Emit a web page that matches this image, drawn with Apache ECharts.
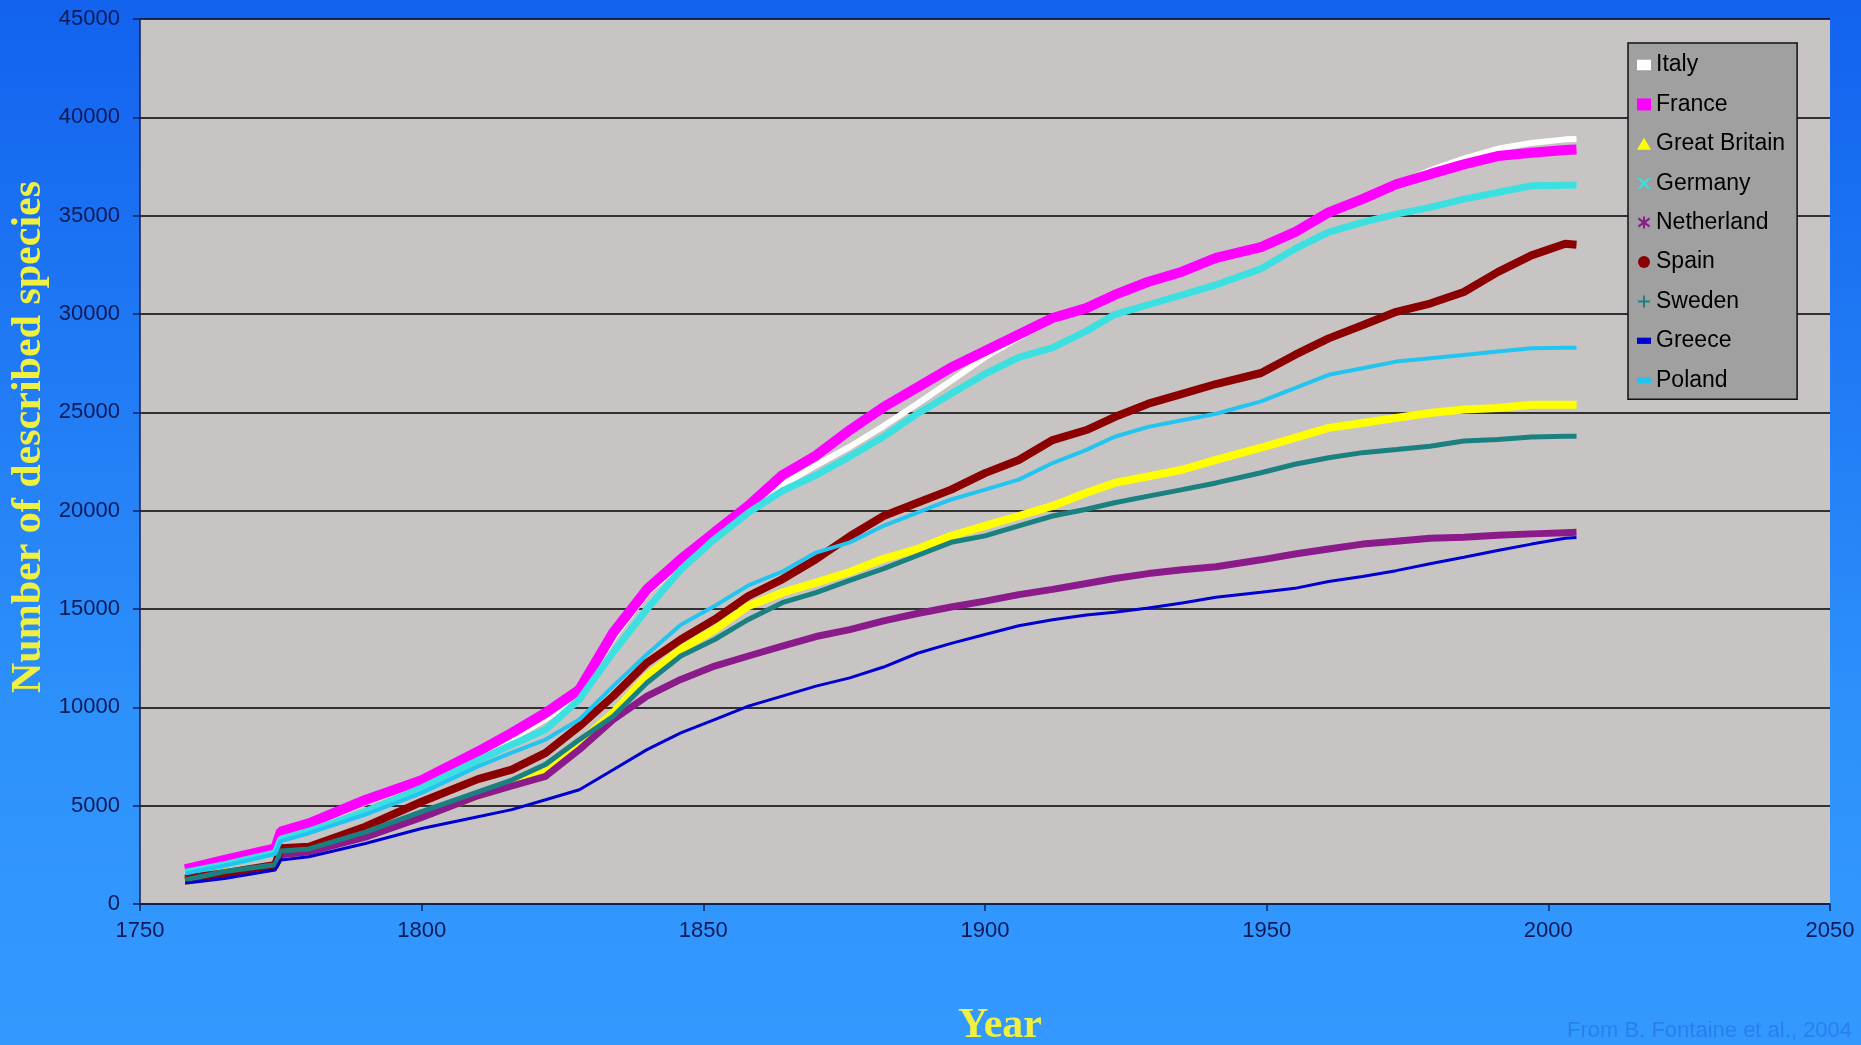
<!DOCTYPE html>
<html>
<head>
<meta charset="utf-8">
<script src="https://cdn.jsdelivr.net/npm/echarts@6/dist/echarts.min.js"></script>
<style>
html,body{margin:0;padding:0;width:1861px;height:1045px;overflow:hidden;}
#chart{width:1861px;height:1045px;}
</style>
</head>
<body>
<div id="chart"></div>
<script>
var years = [1758,1765,1774,1775,1780,1790,1800,1810,1816,1822,1828,1834,1840,1846,1852,1858,1864,1870,1876,1882,1888,1894,1900,1906,1912,1918,1923,1929,1935,1941,1949,1955,1961,1967,1973,1979,1985,1991,1997,2003,2005];

var italy = [1500,2100,2700,3500,3950,5150,6150,7500,8400,9400,10600,13500,15800,17300,18700,20000,21300,22300,23250,24300,25440,26610,27800,28800,29700,30250,30900,31600,32100,32800,33350,34100,35100,35800,36600,37300,37900,38400,38700,38880,38900];
var france = [1760,2240,2830,3680,4100,5290,6300,7750,8700,9720,10900,13800,16000,17530,18900,20250,21800,22800,24100,25270,26270,27280,28120,28960,29800,30300,30970,31640,32150,32850,33400,34160,35170,35840,36600,37110,37610,38030,38200,38340,38370];
var greatBritain = [1150,1600,1900,2500,2700,3500,4500,5500,6100,6900,8200,9720,11590,12950,13960,15150,15830,16340,16880,17550,18050,18720,19230,19730,20240,20910,21410,21740,22080,22580,23200,23700,24210,24460,24720,24970,25140,25220,25390,25390,25390];
var germany = [1600,2000,2600,3300,3700,4700,5900,7300,8100,8870,10400,12800,15000,17000,18550,19900,21000,21800,22750,23760,24930,25940,26950,27790,28290,29130,29970,30470,30970,31480,32300,33310,34160,34660,35080,35420,35840,36180,36520,36550,36550];
var netherland = [1200,1550,1900,2500,2650,3400,4400,5500,6000,6490,7850,9380,10570,11420,12100,12610,13110,13600,13950,14400,14770,15100,15400,15730,16000,16300,16550,16800,17000,17150,17500,17800,18050,18300,18450,18600,18650,18750,18820,18880,18900];
var spain = [1300,1560,1980,2830,2910,3930,5200,6350,6830,7680,9040,10570,12270,13450,14470,15660,16510,17530,18700,19730,20400,21070,21910,22580,23590,24100,24760,25440,25940,26440,27000,27920,28760,29430,30110,30530,31120,32130,32980,33570,33520];
var sweden = [1220,1650,2000,2700,2800,3650,4700,5700,6300,7100,8360,9550,11250,12610,13450,14470,15320,15830,16460,17050,17720,18390,18720,19230,19730,20070,20400,20740,21070,21410,21930,22360,22690,22950,23110,23280,23540,23620,23740,23790,23790];
var greece = [1050,1300,1730,2240,2400,3080,3840,4440,4800,5300,5810,6830,7850,8700,9380,10060,10570,11080,11500,12050,12750,13250,13700,14150,14450,14700,14830,15050,15300,15600,15850,16050,16400,16650,16950,17300,17630,17970,18300,18600,18640];
var poland = [1550,1950,2550,3200,3600,4550,5650,7000,7700,8360,9380,11080,12700,14200,15150,16200,16900,17870,18390,19230,19900,20570,21070,21580,22420,23090,23760,24260,24600,24930,25560,26230,26910,27240,27580,27750,27920,28090,28260,28290,28290];

var yTicks = [0,5000,10000,15000,20000,25000,30000,35000,40000,45000];
var xTicks = [1750,1800,1850,1900,1950,2000,2050];

var seriesDefs = [
  {name:'Italy', data:italy, color:'#ffffff', width:6, icon:'path://M0,0 L8,0 L8,6 L0,6 Z'},
  {name:'France', data:france, color:'#ff00ff', width:10, icon:'rect'},
  {name:'Great Britain', data:greatBritain, color:'#ffff00', width:8, icon:'triangle'},
  {name:'Germany', data:germany, color:'#3ce0e0', width:7, icon:'path://M0,0 L3,0 L7,4 L11,0 L14,0 L8.5,5.5 L14,11 L11,11 L7,7 L3,11 L0,11 L5.5,5.5 Z'},
  {name:'Netherland', data:netherland, color:'#8b1a8b', width:7, icon:'path://M6,0 L8,0 L8,4 L12,1 L13,3 L9,6 L13,9 L12,11 L8,8 L8,12 L6,12 L6,8 L2,11 L1,9 L5,6 L1,3 L2,1 L6,4 Z'},
  {name:'Spain', data:spain, color:'#8b0000', width:8, icon:'circle'},
  {name:'Sweden', data:sweden, color:'#1a8080', width:5, icon:'path://M5,0 L7,0 L7,5 L12,5 L12,7 L7,7 L7,12 L5,12 L5,7 L0,7 L0,5 L5,5 Z'},
  {name:'Greece', data:greece, color:'#0000d0', width:3, icon:'path://M0,0 L9,0 L9,4 L0,4 Z'},
  {name:'Poland', data:poland, color:'#22c4f0', width:4, icon:'path://M0,0 L14,0 L14,6 L0,6 Z'}
];

var chart = echarts.init(document.getElementById('chart'));

var series = seriesDefs.map(function(s){
  return {
    name: s.name,
    type: 'line',
    data: years.map(function(y,i){return [y, s.data[i]];}),
    showSymbol: false,
    symbol: 'none',
    smooth: false,
    lineStyle: {color: s.color, width: s.width},
    itemStyle: {color: s.color},
    emphasis: {disabled: true},
    animation: false
  };
});

var legendData = seriesDefs.map(function(s){
  return {name: s.name, icon: s.icon, itemStyle:{color:s.color, borderWidth:0}};
});

var option = {
  backgroundColor: {
    type:'linear', x:0, y:0, x2:0, y2:1,
    colorStops:[{offset:0,color:'#1262ee'},{offset:0.7,color:'#2e92fb'},{offset:1,color:'#3399ff'}]
  },
  animation: false,
  grid: {
    left:140, right:31, top:19, bottom:141,
    show:true, backgroundColor:'#c8c4c4', borderWidth:0, containLabel:false
  },
  legend: {
    orient:'vertical',
    left:1628, top:43,
    data: legendData,
    backgroundColor:'#a0a0a0',
    borderColor:'#111111',
    borderWidth:1.5,
    borderRadius:0,
    padding:[10,12,7,9],
    itemWidth:14, itemHeight:12,
    itemGap:15.4,
    selectedMode:false,
    textStyle:{color:'#000000', fontSize:23, fontFamily:'Liberation Sans, Arial, sans-serif', lineHeight:24, padding:[0,0,0,0]}
  },
  xAxis: {
    type:'value', min:1750, max:2050, interval:50,
    axisLine:{show:true, onZero:false, lineStyle:{color:'#0a1f5c', width:1.5}},
    axisTick:{show:true, length:7, lineStyle:{color:'#0a1f5c', width:1.5}},
    splitLine:{show:false},
    axisLabel:{
      color:'#0d1a55', fontSize:22, fontFamily:'Liberation Sans, Arial, sans-serif', margin:16,
      formatter:function(v){ return xTicks.indexOf(v) >= 0 ? String(v) : ''; }
    }
  },
  yAxis: {
    type:'value', min:0, max:45000, interval:5000,
    axisLine:{show:true, lineStyle:{color:'#0a1f5c', width:1.5}},
    axisTick:{show:true, length:7, lineStyle:{color:'#0a1f5c', width:1.5}},
    splitLine:{show:true, lineStyle:{color:'#000000', width:1.5}},
    axisLabel:{
      color:'#0d1a55', fontSize:22, fontFamily:'Liberation Sans, Arial, sans-serif', margin:20,
      formatter:function(v){ return yTicks.indexOf(v) >= 0 ? String(v) : ''; }
    }
  },
  graphic: [
    {type:'text', x:29, y:437, rotation:Math.PI/2,
     style:{text:'Number of described species', fill:'#f0f040', font:'bold 42px "Liberation Serif", "Times New Roman", serif', textAlign:'center', textVerticalAlign:'middle'}},
    {type:'text', x:1000, y:1026,
     style:{text:'Year', fill:'#f0f040', font:'bold 42px "Liberation Serif", "Times New Roman", serif', textAlign:'center', textVerticalAlign:'middle'}},
    {type:'text', x:1852, y:1031,
     style:{text:'From B. Fontaine et al., 2004', fill:'#2a80ea', font:'22px "Liberation Sans", Arial, sans-serif', textAlign:'right', textVerticalAlign:'middle'}}
  ],
  series: series
};

chart.setOption(option);
</script>
</body>
</html>
